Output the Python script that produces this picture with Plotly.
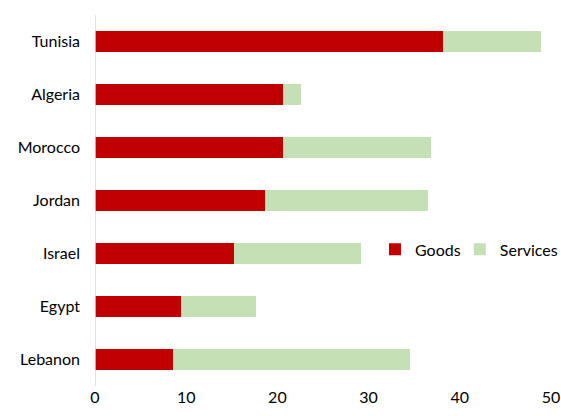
import plotly.graph_objects as go

countries = ["Tunisia", "Algeria", "Morocco", "Jordan", "Israel", "Egypt", "Lebanon"]
goods = [38.2, 20.6, 20.6, 18.6, 15.2, 9.4, 8.6]
services = [10.7, 2.0, 16.2, 17.9, 14.0, 8.3, 25.9]
x_ticks = [0, 10, 20, 30, 40, 50]

FONT = "Lato, Carlito, 'Open Sans', sans-serif"

fig = go.Figure()
fig.add_trace(go.Bar(y=countries, x=goods, name="Goods", orientation="h", showlegend=True,
                     marker=dict(color="#C00000", line=dict(width=0)), legend="legend"))
fig.add_trace(go.Bar(y=countries, x=services, name="Services", orientation="h", showlegend=True,
                     marker=dict(color="#C5E0B4", line=dict(width=0)), legend="legend2"))

leg_common = dict(orientation="h", y=0.368, xanchor="left", yanchor="middle",
                  font=dict(size=16), bgcolor="rgba(0,0,0,0)")

fig.update_layout(
    showlegend=True,
    barmode="stack",
    bargap=0.6,
    width=561, height=416,
    margin=dict(l=95, r=10, t=15, b=30, autoexpand=False),
    plot_bgcolor="white", paper_bgcolor="white",
    font=dict(family=FONT, color="#000000", size=16),
    legend=dict(x=0.614, **leg_common),
    legend2=dict(x=0.800, **leg_common),
    xaxis=dict(range=[0, 50], tickvals=x_ticks, showgrid=False, zeroline=False,
               showline=False, tickfont=dict(size=16), ticks="", automargin=False),
    yaxis=dict(categoryorder="array", categoryarray=countries[::-1], autorange=False,
               range=[-0.5, 6.5], showgrid=False, showline=False, ticks="",
               ticklabelstandoff=14, tickfont=dict(size=16), automargin=False),
    shapes=[dict(type="line", xref="x", yref="paper", x0=0, x1=0, y0=0, y1=1,
                 line=dict(color="#D9D9D9", width=1.5))],
)

fig.write_html("out.html")
